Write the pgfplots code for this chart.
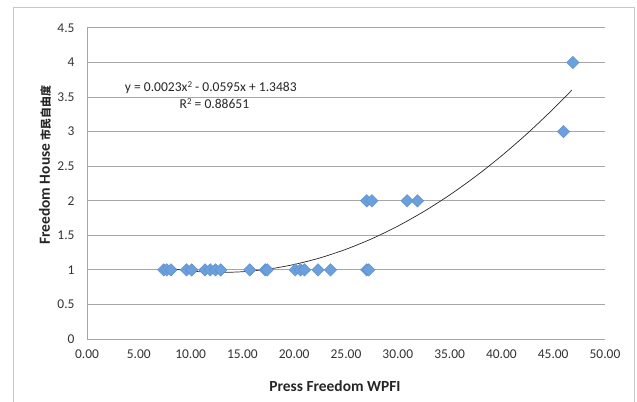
\documentclass[border=0pt]{standalone}
\usepackage{fontspec}
\setmainfont{Carlito}
\newfontfamily\cjk{Noto Sans CJK TC}
\usepackage{pgfplots}
\pgfplotsset{compat=1.18}
\definecolor{gridgray}{RGB}{166,166,166}
\definecolor{framegray}{RGB}{200,200,200}
\definecolor{markblue}{RGB}{108,160,220}
\definecolor{markedge}{RGB}{90,140,205}
\begin{document}
\begin{tikzpicture}[x=1bp,y=1bp]
\path[use as bounding box] (-87bp,-63bp) rectangle (550bp,339bp);
\draw[framegray, line width=1bp] (-73bp,-70bp) -- (-73bp,331bp) -- (547bp,331bp) -- (547bp,-70bp);
\begin{axis}[
  at={(0,0)}, anchor=south west,
  scale only axis, width=518bp, height=311bp,
  xmin=0, xmax=50, ymin=0, ymax=4.5,
  xtick={0,5,...,50}, ytick={0,0.5,...,4.5},
  axis x line*=bottom, axis y line*=left,
  axis line style={gridgray, line width=1bp, -},
  ymajorgrids, grid style={gridgray, line width=1bp},
  major tick length=0pt,
  /pgf/number format/assume math mode=true,
  xticklabel style={font=\fontsize{13.5}{15}\selectfont, yshift=-7bp, text=black!80},
  yticklabel style={font=\fontsize{13.5}{15}\selectfont, xshift=-9bp, text=black!80},
  xticklabel={\pgfmathprintnumber[fixed, fixed zerofill, precision=2]{\tick}},
  yticklabel={\pgfmathprintnumber[fixed, precision=1]{\tick}},
  clip=false,
]
\addplot[only marks, mark=square*, mark size=4.4bp,
  mark options={rotate=45, fill=markblue, draw=markedge, line width=0.4bp}]
  coordinates {
  (7.4,1) (7.7,1) (8.1,1) (9.6,1) (10.1,1) (11.4,1) (11.9,1) (12.4,1) (12.9,1)
  (15.7,1) (17.2,1) (17.4,1) (20.1,1) (20.6,1) (21.0,1) (22.3,1) (23.5,1) (27.0,1) (27.2,1)
  (27.0,2) (27.5,2) (30.9,2) (31.9,2)
  (46.0,3) (46.9,4)
  };
\addplot[black!85, line width=0.7bp, smooth] coordinates {
  (7.4,1.0340) (10,0.9833) (12.5,0.9639) (15,0.9733) (17.5,1.0114) (20,1.0783)
  (22.5,1.1739) (25,1.2983) (27.5,1.4514) (30,1.6333) (32.5,1.8439) (35,2.0833)
  (37.5,2.3514) (40,2.6483) (42.5,2.9739) (45,3.3283) (46.8,3.6013)
  };
\node[font=\fontsize{13.6}{15}\selectfont, text=black!85] at (axis cs:11.95,3.64) {y = 0.0023x{\fontsize{9}{10}\selectfont\raisebox{0.45em}{2}} - 0.0595x + 1.3483};
\node[font=\fontsize{13.6}{15}\selectfont, text=black!85] at (axis cs:12.3,3.40) {R{\fontsize{9}{10}\selectfont\raisebox{0.45em}{2}} = 0.88651};
\end{axis}
\node[rotate=90, font=\bfseries\fontsize{15.5}{17}\selectfont, text=black!85] at (-42bp,174bp) {Freedom House {\cjk\fontsize{11}{13}\selectfont 市民自由度}};
\node[font=\bfseries\fontsize{15.5}{17}\selectfont, text=black!85] at (248bp,-47bp) {Press Freedom WPFI};
\end{tikzpicture}
\end{document}
